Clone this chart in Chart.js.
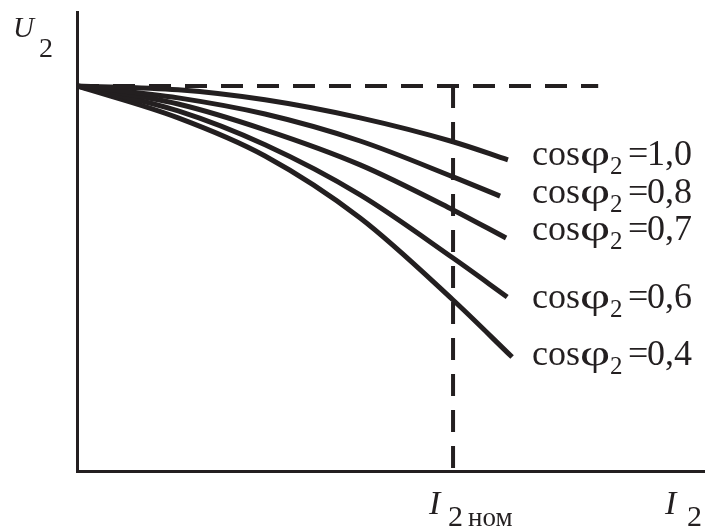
<!DOCTYPE html>
<html><head><meta charset="utf-8">
<script src="https://cdn.jsdelivr.net/npm/chart.js@4"></script>
<style>html,body{margin:0;background:#fff}</style>
</head><body>
<canvas id="c" width="705" height="528"></canvas>
<script>
/* DATA: load current I2 (I2nom = 1) and voltage U2 (U20 = 1) */
const powerFactors=['1,0','0,8','0,7','0,6','0,4'];
const current10=[0,0.269,0.5,0.753,1.0,1.146];
const voltage10=[1,0.990,0.964,0.917,0.855,0.808];
const current08=[0,0.269,0.5,0.753,1.0,1.125];
const voltage08=[1,0.969,0.927,0.857,0.764,0.714];
const current07=[0,0.269,0.5,0.753,1.0,1.141];
const voltage07=[1,0.953,0.886,0.795,0.678,0.605];
const current06=[0,0.269,0.5,0.753,1.0,1.144];
const voltage06=[1,0.935,0.847,0.717,0.553,0.452];
const current04=[0,0.269,0.5,0.753,1.0,1.157];
const voltage04=[1,0.917,0.818,0.657,0.444,0.296];
const nominalI=1, noLoadU=1, refLineEnd=1.386;
const xMax=1.67, yMax=1.192;

const ink='#231f20';
const pts=(xs,ys)=>xs.map((v,i)=>({x:v,y:ys[i]}));
const curves=[[current10,voltage10],[current08,voltage08],[current07,voltage07],[current06,voltage06],[current04,voltage04]];

const curveSets=curves.map(([xs,ys],i)=>({label:'cos '+powerFactors[i],data:pts(xs,ys),
  borderColor:ink,borderWidth:5,pointRadius:0,cubicInterpolationMode:'monotone',fill:false}));
const dashH={label:'U20',data:pts([0,refLineEnd],[noLoadU,noLoadU]),borderColor:ink,borderWidth:4,borderDash:[22,14],pointRadius:0,tension:0};
const dashV={label:'I2nom',data:pts([nominalI,nominalI],[noLoadU,0]),borderColor:ink,borderWidth:4,borderDash:[22,14],pointRadius:0,tension:0};

const serif='"Liberation Serif","Times New Roman",serif';
const labelShift=[5,7,2,11,8];
const textPlugin={id:'texts',afterDraw(chart){
  const {ctx,chartArea:a,scales:{x,y}}=chart;
  ctx.save();ctx.fillStyle=ink;ctx.textBaseline='alphabetic';
  // axis names
  ctx.font='italic 29px '+serif;ctx.fillText('U',a.left-64,a.top+25);
  ctx.font='28px '+serif;ctx.fillText('2',a.left-38,a.top+45);
  const xn=x.getPixelForValue(nominalI);
  ctx.font='italic 34px '+serif;ctx.fillText('I',xn-24,a.bottom+43);
  ctx.font='30px '+serif;ctx.fillText('2',xn-5,a.bottom+55);
  ctx.font='27px '+serif;ctx.fillText('ном',xn+15,a.bottom+55);
  ctx.font='italic 34px '+serif;ctx.fillText('I',a.right-40,a.bottom+43);
  ctx.font='30px '+serif;ctx.fillText('2',a.right-18,a.bottom+55);
  // power factor labels
  curves.forEach(([xs,ys],i)=>{
    const by=y.getPixelForValue(ys[ys.length-1])+labelShift[i], bx=xn+79;
    ctx.font='36px '+serif;ctx.fillText('cos',bx,by);
    ctx.save();ctx.translate(bx+48,by);ctx.scale(1.45,1);ctx.fillText('φ',0,0);ctx.restore();
    ctx.font='25px '+serif;ctx.fillText('2',bx+78,by+9);
    ctx.font='36px '+serif;ctx.fillText('=',bx+96,by);
    ctx.fillText(powerFactors[i],bx+115,by);
  });
  ctx.restore();
}};

new Chart(document.getElementById('c'),{
  type:'line',
  data:{datasets:[...curveSets,dashH,dashV]},
  options:{responsive:false,animation:false,
    layout:{padding:{left:77,top:12,right:0,bottom:57}},
    plugins:{legend:{display:false},tooltip:{enabled:false}},
    scales:{
      x:{type:'linear',min:0,max:xMax,grid:{display:false,drawTicks:false},ticks:{display:false},border:{display:true,width:3,color:ink}},
      y:{type:'linear',min:0,max:yMax,grid:{display:false,drawTicks:false},ticks:{display:false},border:{display:true,width:3,color:ink}}
    }},
  plugins:[textPlugin]
});
</script></body></html>
